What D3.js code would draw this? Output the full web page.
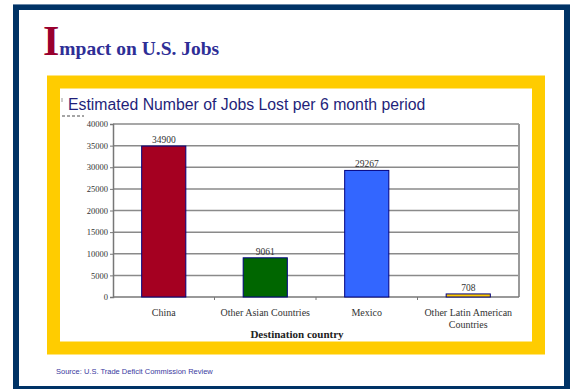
<!DOCTYPE html>
<html>
<head>
<meta charset="utf-8">
<script src="https://cdn.jsdelivr.net/npm/d3@7"></script>
<style>
  html, body { margin: 0; padding: 0; background: #fff; }
  svg { display: block; }
</style>
</head>
<body>
<svg id="chart"></svg>
<script>
var categories = ["China", "Other Asian Countries", "Mexico", "Other Latin American Countries"];
var jobsLost = [34900, 9061, 29267, 708];
var barColors = ["#a50021", "#006600", "#3366ff", "#ffcc00"];
var yTicks = [0, 5000, 10000, 15000, 20000, 25000, 30000, 35000, 40000];

var width = 570, height = 389;

var svg = d3.select('#chart')
  .attr('width', width)
  .attr('height', height);

// slide frame
svg.append('rect')
  .attr('x', 16).attr('y', 7)
  .attr('width', 551).attr('height', 382)
  .attr('fill', '#fff')
  .attr('stroke', '#003366')
  .attr('stroke-width', 6);
svg.append('line')
  .attr('x1', 13).attr('x2', 570)
  .attr('y1', 4.5).attr('y2', 4.5)
  .attr('stroke', '#6a88a8').attr('stroke-width', 1);

// slide title
var title = svg.append('text')
  .attr('x', 43).attr('y', 55)
  .attr('font-family', 'Liberation Serif, Times New Roman, serif')
  .attr('font-weight', 'bold');
title.append('tspan')
  .attr('font-size', 42)
  .attr('fill', '#99002e')
  .text('I');
title.append('tspan')
  .attr('font-size', 19.5)
  .attr('fill', '#2e2e96')
  .text('mpact on U.S. Jobs');

// yellow box
svg.append('rect')
  .attr('x', 53.5).attr('y', 82)
  .attr('width', 485).attr('height', 266)
  .attr('fill', '#fff')
  .attr('stroke', '#ffcc00')
  .attr('stroke-width', 13);

svg.append('text')
  .attr('x', 68).attr('y', 110)
  .attr('font-family', 'Liberation Sans, Arial, sans-serif')
  .attr('font-size', 15.8)
  .attr('fill', '#1f1f7a')
  .text('Estimated Number of Jobs Lost per 6 month period');

// little leftovers from the pasted picture
svg.append('line')
  .attr('x1', 62).attr('x2', 62).attr('y1', 98).attr('y2', 102)
  .attr('stroke', '#999').attr('stroke-width', 1);
svg.append('line')
  .attr('x1', 62).attr('x2', 84).attr('y1', 116).attr('y2', 116)
  .attr('stroke', '#888').attr('stroke-width', 1.5)
  .attr('stroke-dasharray', '3,2');

// plot
var plot = {left: 113, right: 519, top: 124, bottom: 297};
var serif = 'Liberation Serif, Times New Roman, serif';

var x = d3.scaleBand()
  .domain(categories)
  .range([plot.left, plot.right])
  .padding(0);

var y = d3.scaleLinear()
  .domain([0, 40000])
  .range([plot.bottom, plot.top]);

var barW = x.bandwidth() * 0.435;

var g = svg.append('g');

// grid
g.selectAll('line.grid')
  .data(yTicks.slice(1))
  .enter()
  .append('line')
  .attr('class', 'grid')
  .attr('x1', plot.left).attr('x2', plot.right)
  .attr('y1', function(d){ return y(d); })
  .attr('y2', function(d){ return y(d); })
  .attr('stroke', '#8a8a8a')
  .attr('stroke-width', 1.5);

g.append('line')
  .attr('x1', plot.right).attr('x2', plot.right)
  .attr('y1', plot.top).attr('y2', plot.bottom)
  .attr('stroke', '#9a9a9a').attr('stroke-width', 2);

// y axis
var yAxis = g.append('g')
  .attr('transform', 'translate(' + plot.left + ',0)')
  .call(d3.axisLeft(y).tickValues(yTicks).tickFormat(d3.format('d')).tickSize(3).tickPadding(2));
yAxis.select('.domain').attr('stroke', '#777').attr('stroke-width', 1.5);
yAxis.selectAll('.tick line').attr('stroke', '#777');
yAxis.selectAll('text')
  .attr('font-family', serif)
  .attr('font-size', 8.5)
  .attr('fill', '#333');

// x axis with ticks between categories
var xAxis = g.append('g')
  .attr('transform', 'translate(0,' + plot.bottom + ')');
xAxis.append('line')
  .attr('x1', plot.left).attr('x2', plot.right)
  .attr('stroke', '#777').attr('stroke-width', 1.5);
xAxis.selectAll('line.tk')
  .data(categories.slice(1))
  .enter()
  .append('line')
  .attr('class', 'tk')
  .attr('x1', function(d){ return x(d); })
  .attr('x2', function(d){ return x(d); })
  .attr('y1', 0).attr('y2', 3)
  .attr('stroke', '#777');

// bars
g.selectAll('rect.bar')
  .data(jobsLost)
  .enter()
  .append('rect')
  .attr('class', 'bar')
  .attr('x', function(d, i){ return x(categories[i]) + (x.bandwidth() - barW) / 2; })
  .attr('y', function(d){ return y(d); })
  .attr('width', barW)
  .attr('height', function(d){ return plot.bottom - y(d); })
  .attr('fill', function(d, i){ return barColors[i]; })
  .attr('stroke', '#000080')
  .attr('stroke-width', 1);

g.selectAll('text.val')
  .data(jobsLost)
  .enter()
  .append('text')
  .attr('class', 'val')
  .attr('x', function(d, i){ return x(categories[i]) + x.bandwidth() / 2; })
  .attr('y', function(d){ return y(d) - 3; })
  .attr('text-anchor', 'middle')
  .attr('font-family', serif)
  .attr('font-size', 9.5)
  .attr('fill', '#333')
  .text(function(d){ return d; });

// category labels, wrapped like the original
var catLines = [["China"], ["Other Asian Countries"], ["Mexico"], ["Other Latin American", "Countries"]];
g.selectAll('text.cat')
  .data(categories)
  .enter()
  .append('text')
  .attr('class', 'cat')
  .attr('x', function(d){ return x(d) + x.bandwidth() / 2; })
  .attr('y', plot.bottom + 19)
  .attr('text-anchor', 'middle')
  .attr('font-family', serif)
  .attr('font-size', 10)
  .attr('fill', '#333')
  .each(function(d, i){
    var t = d3.select(this);
    catLines[i].forEach(function(line, k){
      t.append('tspan')
        .attr('x', x(d) + x.bandwidth() / 2)
        .attr('dy', k === 0 ? 0 : 12)
        .text(line);
    });
  });

g.append('text')
  .attr('x', 297).attr('y', 338)
  .attr('text-anchor', 'middle')
  .attr('font-family', serif)
  .attr('font-weight', 'bold')
  .attr('font-size', 11)
  .attr('fill', '#222')
  .text('Destination country');

// source
svg.append('text')
  .attr('x', 56).attr('y', 374)
  .attr('font-family', 'Liberation Sans, Arial, sans-serif')
  .attr('font-size', 7.5)
  .attr('fill', '#3a3aa0')
  .text('Source: U.S. Trade Deficit Commission Review');
</script>
</body>
</html>
